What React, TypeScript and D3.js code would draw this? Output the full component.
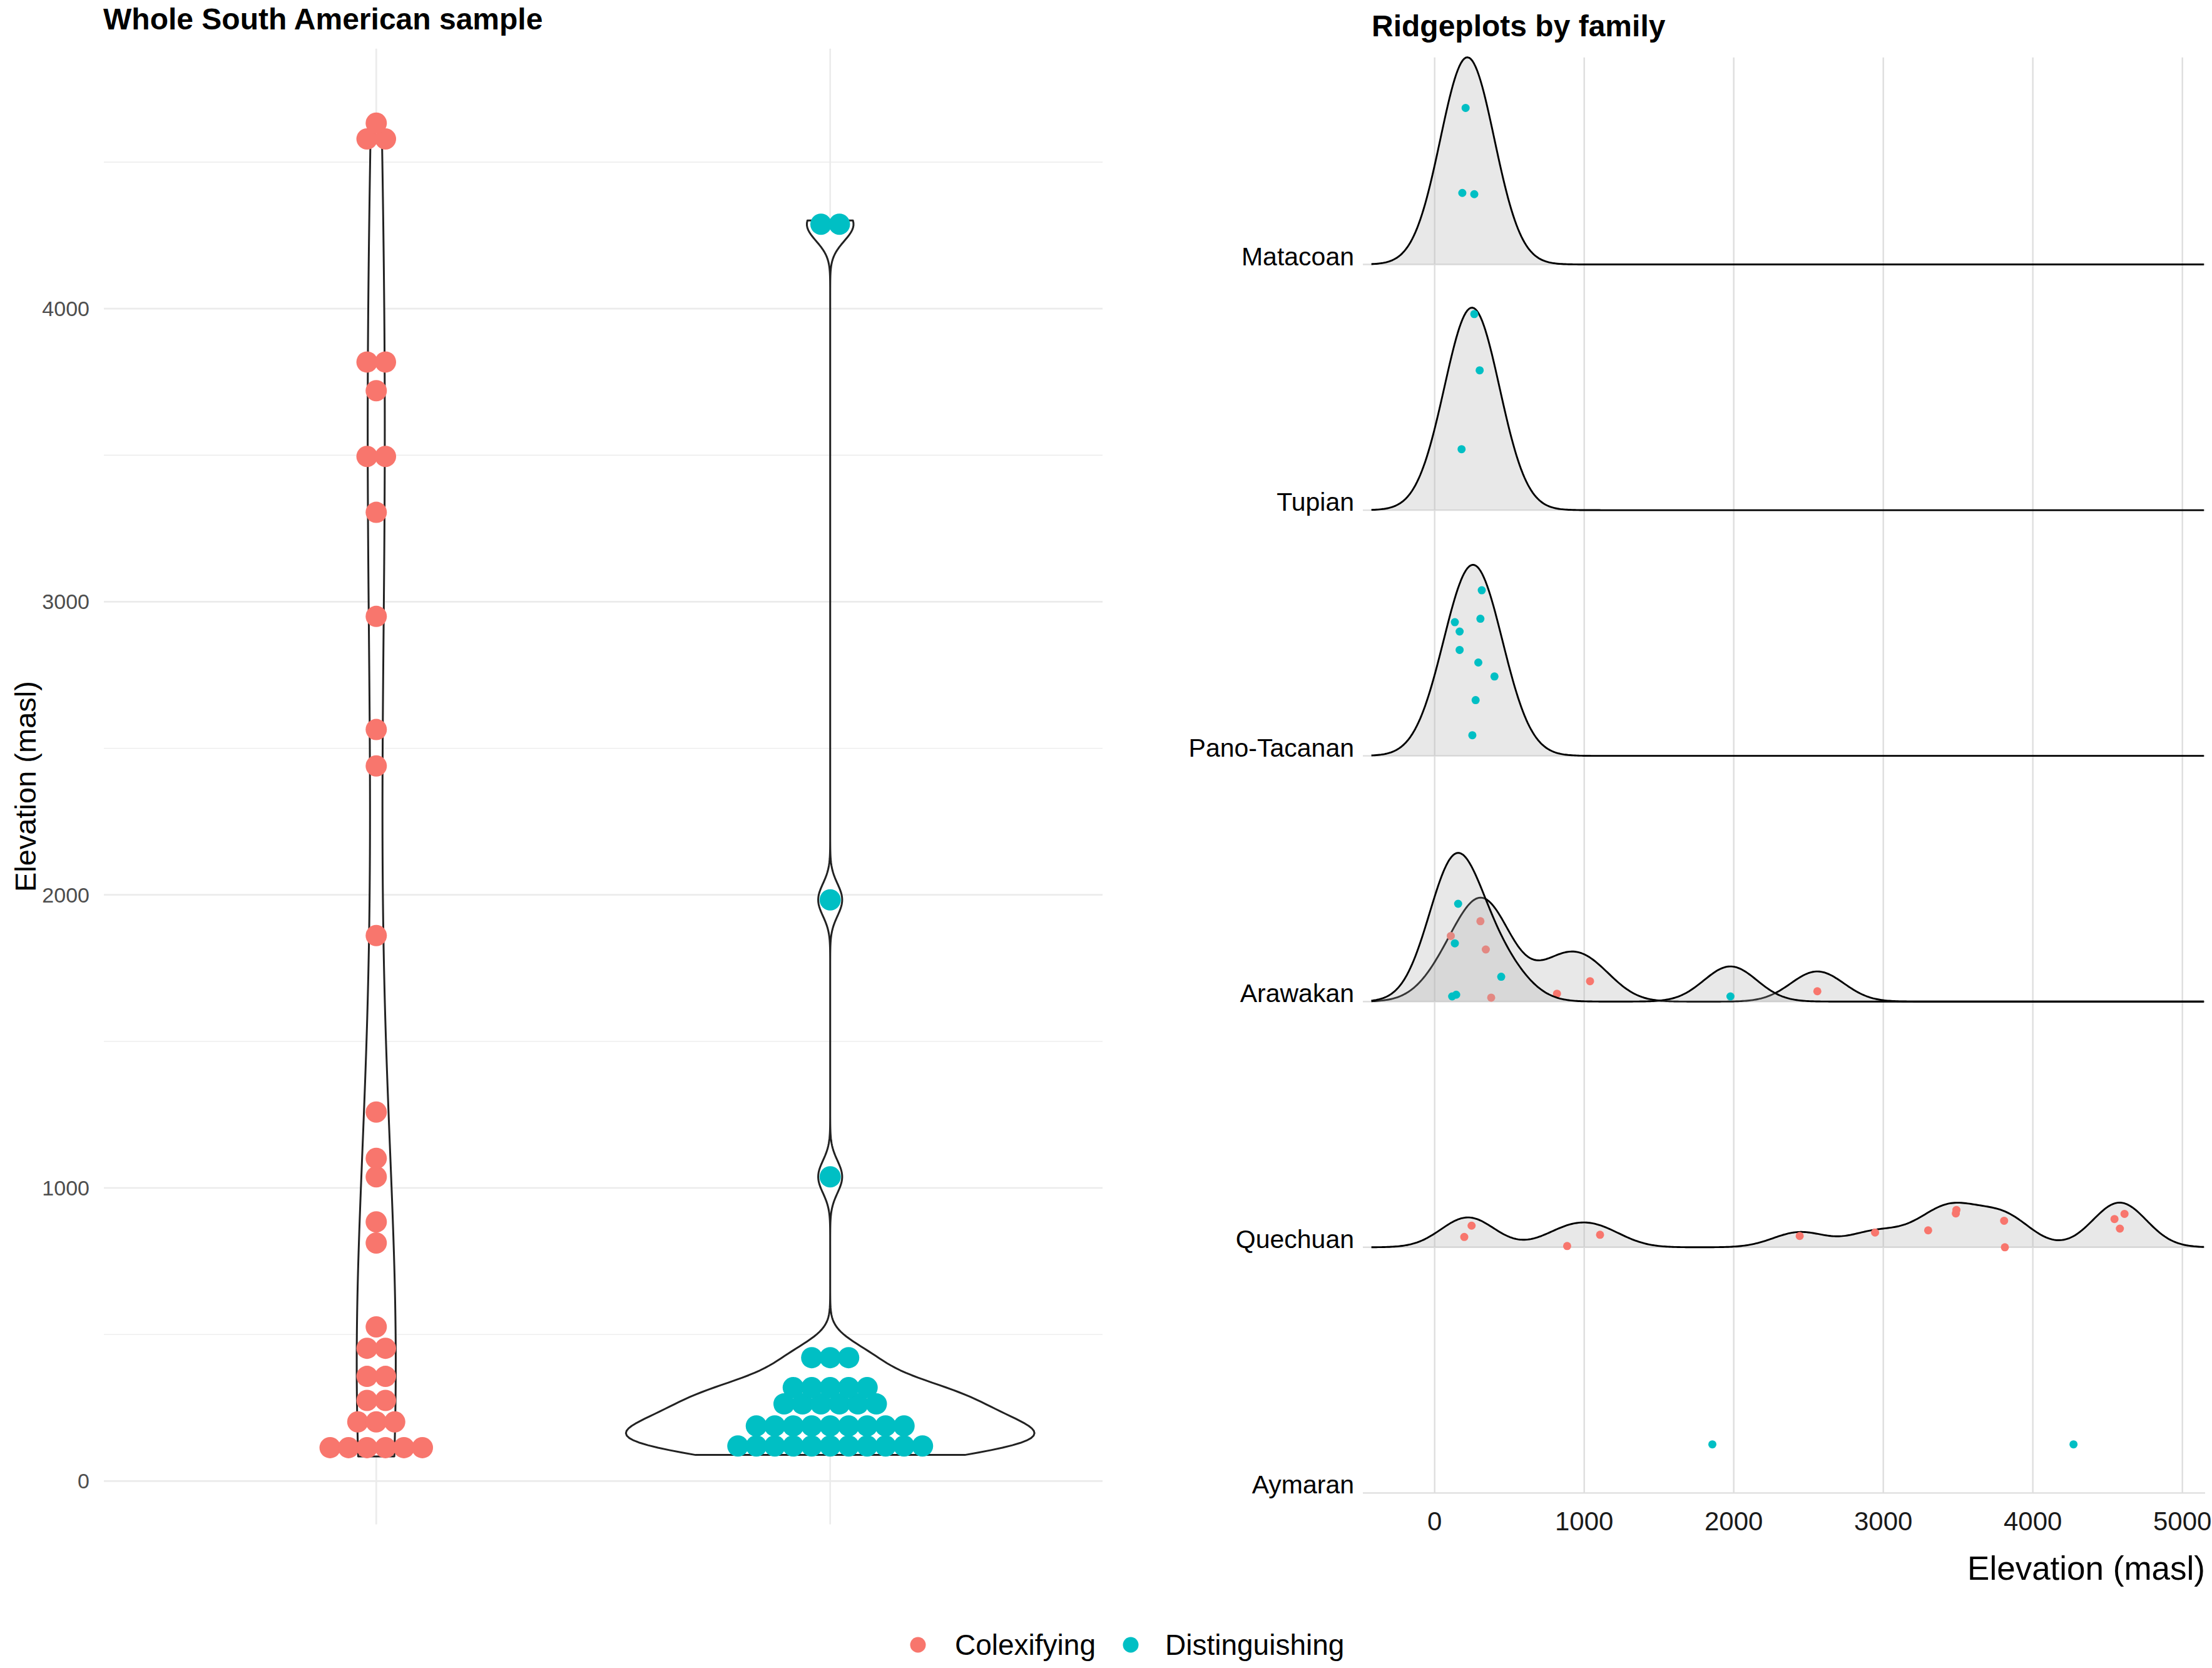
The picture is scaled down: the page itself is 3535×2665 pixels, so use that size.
import React from 'react';
import * as d3 from 'd3';

// ---- data ----
const groups = ['Colexifying', 'Distinguishing'];
const groupColors = ['#F8766D', '#00BFC4'];

// whole South American sample, elevation (masl) per language
const colexifyingElev = [
  84, 95, 108, 118, 130, 144, 175, 200, 229, 250, 300, 330, 384, 430, 476, 526,
  812, 884, 1038, 1101, 1259, 1861, 2440, 2564, 2950, 3305, 3480, 3512, 3720,
  3800, 3836, 4560, 4598, 4633,
];
const distinguishingElev = [
  89, 95, 100, 105, 110, 118, 125, 132, 138, 144, 150, 160, 165, 172, 180, 188,
  195, 202, 210, 216, 236, 245, 255, 268, 280, 290, 300, 308, 318, 328, 338, 405,
  421, 437, 1038, 1983, 4275, 4301,
];

const yTicksLeft = [0, 1000, 2000, 3000, 4000];
const yMinorLeft = [500, 1500, 2500, 3500, 4500];

// ridgeplot families (top to bottom)
const families = ['Matacoan', 'Tupian', 'Pano-Tacanan', 'Arawakan', 'Quechuan', 'Aymaran'];

const matacoanDist = [185, 207, 265];
const tupianDist = [180, 265, 301];
const panoTacananDist = [135, 167, 167, 252, 274, 292, 306, 315, 400];
const arawakanColex = [108, 306, 342, 378, 818, 1039, 2559];
const arawakanDist = [117, 135, 144, 157, 445, 1978];
const quechuanColex = [198, 247, 886, 1106, 2441, 2945, 3300, 3485, 3489, 3808, 3813, 4546, 4582, 4613];
const aymaranDist = [1857, 4272];

// vertical jitter of the ridge points, as share of the row spacing
const matacoanJit = [0.291, 0.637, 0.286];
const tupianJit = [0.248, 0.798, 0.569];
const panoTacananJit = [0.544, 0.506, 0.431, 0.084, 0.227, 0.38, 0.558, 0.674, 0.323];
const arawakanColexJit = [0.267, 0.327, 0.212, 0.016, 0.032, 0.083, 0.042];
const arawakanDistJit = [0.021, 0.237, 0.028, 0.398, 0.101, 0.021];
const quechuanJit = [0.042, 0.088, 0.005, 0.051, 0.046, 0.06, 0.069, 0.138, 0.152, 0.108, 0, 0.115, 0.076, 0.136];
const aymaranJit = [0.198, 0.198];

const xTicksRight = [0, 1000, 2000, 3000, 4000, 5000];

const ridgeSeries = [
  { family: 'Matacoan', group: 1, values: matacoanDist, jit: matacoanJit },
  { family: 'Tupian', group: 1, values: tupianDist, jit: tupianJit },
  { family: 'Pano-Tacanan', group: 1, values: panoTacananDist, jit: panoTacananJit },
  { family: 'Arawakan', group: 0, values: arawakanColex, jit: arawakanColexJit },
  { family: 'Arawakan', group: 1, values: arawakanDist, jit: arawakanDistJit },
  { family: 'Quechuan', group: 0, values: quechuanColex, jit: quechuanJit },
  { family: 'Aymaran', group: 1, values: aymaranDist, jit: aymaranJit },
];

// ---- stats helpers ----
const gauss = (u: number) => Math.exp(-0.5 * u * u) / Math.sqrt(2 * Math.PI);

function kde(values: number[], bw: number, from: number, to: number, n = 512) {
  return d3.range(n).map((i) => {
    const x = from + ((to - from) * i) / (n - 1);
    const d = (d3.mean(values, (v) => gauss((x - v) / bw)) as number) / bw;
    return [x, d] as [number, number];
  });
}

function bwNrd0(values: number[]) {
  const s = d3.deviation(values) as number;
  const sorted = values.slice().sort(d3.ascending);
  const iqr = (d3.quantileSorted(sorted, 0.75) as number) - (d3.quantileSorted(sorted, 0.25) as number);
  return 0.9 * Math.min(s, iqr / 1.34) * Math.pow(values.length, -0.2);
}

// ggplot-style dot density binning
function densityBins(values: number[], binwidth: number) {
  const sorted = values.slice().sort(d3.ascending);
  const bins: number[][] = [];
  let end = -Infinity;
  sorted.forEach((v) => {
    if (v >= end) {
      bins.push([]);
      end = v + binwidth;
    }
    bins[bins.length - 1].push(v);
  });
  return bins.map((b) => ({ center: (b[0] + b[b.length - 1]) / 2, count: b.length }));
}

const FONT = '"Liberation Sans", Arial, sans-serif';

const App: React.FC = () => {
  const W = 3535;
  const H = 2665;

  // ---- left panel ----
  const leftX = d3.scalePoint<string>().domain(groups).range([166, 1762]).padding(0.6);
  const leftY = d3.scaleLinear().domain([-147.6, 4887]).range([2435.4, 77.8]);
  const halfMax = 0.45 * leftX.step();

  const elevByGroup = [colexifyingElev, distinguishingElev];
  const violins = elevByGroup.map((vals) => {
    const bw = bwNrd0(vals);
    return kde(vals, bw, d3.min(vals) as number, d3.max(vals) as number);
  });
  const maxDens = d3.max(violins, (v) => d3.max(v, (d) => d[1])) as number;

  const dotR = 17;
  const dotStep = 29.5;
  const binwidth = 62;

  // ---- right panel ----
  const rightX = d3.scaleLinear().domain([-480, 5152]).range([2178, 3524]);
  const famY = d3.scalePoint<string>().domain(families).range([422.5, 2385.4]);
  const ridgeBw = 177;
  const ridgeScale = 0.843;
  const allRidge = ridgeSeries.flatMap((s) => s.values);
  const rFrom = (d3.min(allRidge) as number) - 3 * ridgeBw;
  const rTo = (d3.max(allRidge) as number) + 3 * ridgeBw;
  const ridgeDens = ridgeSeries.map((s) => (s.values.length >= 3 ? kde(s.values, ridgeBw, rFrom, rTo) : null));
  const ridgeMax = d3.max(ridgeDens, (d) => (d ? d3.max(d, (p) => p[1]) : 0)) as number;
  const ridgeH = ridgeScale * famY.step();

  const rTop = 91.7;
  const rBottom = famY('Aymaran') as number;

  return (
    <div style={{ position: 'absolute', left: 0, top: 0 }}>
      <svg width={W} height={H} viewBox={`0 0 ${W} ${H}`} style={{ display: 'block', fontFamily: FONT }}>
        <rect width={W} height={H} fill="#ffffff" />

        {/* ===== left: violin + dotplot ===== */}
        <g>
          {yMinorLeft.map((t) => (
            <line key={'mn' + t} x1={166} x2={1762} y1={leftY(t)} y2={leftY(t)} stroke="#EBEBEB" strokeWidth={1.4} />
          ))}
          {yTicksLeft.map((t) => (
            <line key={'mj' + t} x1={166} x2={1762} y1={leftY(t)} y2={leftY(t)} stroke="#EBEBEB" strokeWidth={2.7} />
          ))}
          {groups.map((g) => (
            <line key={'vx' + g} x1={leftX(g)} x2={leftX(g)} y1={77.8} y2={2435.4} stroke="#EBEBEB" strokeWidth={2.7} />
          ))}
          {yTicksLeft.map((t) => (
            <text key={'yl' + t} x={143} y={leftY(t)} dy="0.35em" textAnchor="end" fontSize={34} fill="#4D4D4D">
              {t}
            </text>
          ))}
          <text
            transform={`translate(57,${(77.8 + 2435.4) / 2}) rotate(-90)`}
            textAnchor="middle"
            fontSize={47}
            fill="#000"
          >
            Elevation (masl)
          </text>
          <text x={165} y={47} fontSize={48} fontWeight="bold" fill="#000">
            Whole South American sample
          </text>

          {violins.map((v, gi) => {
            const cx = leftX(groups[gi]) as number;
            const area = d3
              .area<[number, number]>()
              .y((d) => leftY(d[0]))
              .x0((d) => cx - (d[1] / maxDens) * halfMax)
              .x1((d) => cx + (d[1] / maxDens) * halfMax);
            return (
              <path key={'vi' + gi} d={area(v) as string} fill="#ffffff" stroke="#222222" strokeWidth={3} strokeLinejoin="round" />
            );
          })}

          {elevByGroup.map((vals, gi) => {
            const cx = leftX(groups[gi]) as number;
            return densityBins(vals, binwidth).flatMap((b, bi) =>
              d3.range(b.count).map((k) => (
                <circle
                  key={`d${gi}-${bi}-${k}`}
                  cx={cx + (k - (b.count - 1) / 2) * dotStep}
                  cy={leftY(b.center)}
                  r={dotR}
                  fill={groupColors[gi]}
                />
              ))
            );
          })}
        </g>

        {/* ===== right: ridgeplots ===== */}
        <g>
          {families.map((f) => (
            <line key={'hg' + f} x1={2178} x2={3524} y1={famY(f)} y2={famY(f)} stroke="#DEDEDE" strokeWidth={2.4} />
          ))}
          {xTicksRight.map((t) => (
            <line key={'vg' + t} x1={rightX(t)} x2={rightX(t)} y1={rTop} y2={rBottom} stroke="#DEDEDE" strokeWidth={2.4} />
          ))}
          {xTicksRight.map((t) => (
            <text key={'xl' + t} x={rightX(t)} y={2445} textAnchor="middle" fontSize={42} fill="#1a1a1a">
              {t}
            </text>
          ))}
          {families.map((f) => (
            <text key={'fl' + f} x={2164} y={(famY(f) as number) + 1} textAnchor="end" fontSize={41} fill="#000">
              {f}
            </text>
          ))}
          <text x={3524} y={2524} textAnchor="end" fontSize={53} fill="#000">
            Elevation (masl)
          </text>
          <text x={2192} y={58} fontSize={48} fontWeight="bold" fill="#000">
            Ridgeplots by family
          </text>

          {ridgeSeries.map((s, si) => {
            const base = famY(s.family) as number;
            const dens = ridgeDens[si];
            const hOf = (d: number) => (d / ridgeMax) * ridgeH;
            let shape = null;
            if (dens) {
              const area = d3
                .area<[number, number]>()
                .x((d) => rightX(d[0]))
                .y0(base)
                .y1((d) => base - hOf(d[1]));
              const line = d3
                .line<[number, number]>()
                .x((d) => rightX(d[0]))
                .y((d) => base - hOf(d[1]));
              shape = (
                <g>
                  <path d={area(dens) as string} fill="#B3B3B3" fillOpacity={0.3} stroke="none" />
                  <path d={line(dens) as string} fill="none" stroke="#000" strokeWidth={2.9} strokeLinejoin="round" />
                </g>
              );
            }
            return (
              <g key={'rs' + si}>
                {shape}
                {s.values.map((v, vi) => (
                  <circle
                    key={'rp' + vi}
                    cx={rightX(v)}
                    cy={base - s.jit[vi] * famY.step()}
                    r={6.5}
                    fill={groupColors[s.group]}
                  />
                ))}
              </g>
            );
          })}
        </g>

        {/* ===== legend ===== */}
        <g>
          <circle cx={1467} cy={2628} r={12.5} fill={groupColors[0]} />
          <text x={1526} y={2628} dy="0.35em" fontSize={46} fill="#000">
            {groups[0]}
          </text>
          <circle cx={1807} cy={2628} r={12.5} fill={groupColors[1]} />
          <text x={1862} y={2628} dy="0.35em" fontSize={46} fill="#000">
            {groups[1]}
          </text>
        </g>
      </svg>
    </div>
  );
};

export default App;
